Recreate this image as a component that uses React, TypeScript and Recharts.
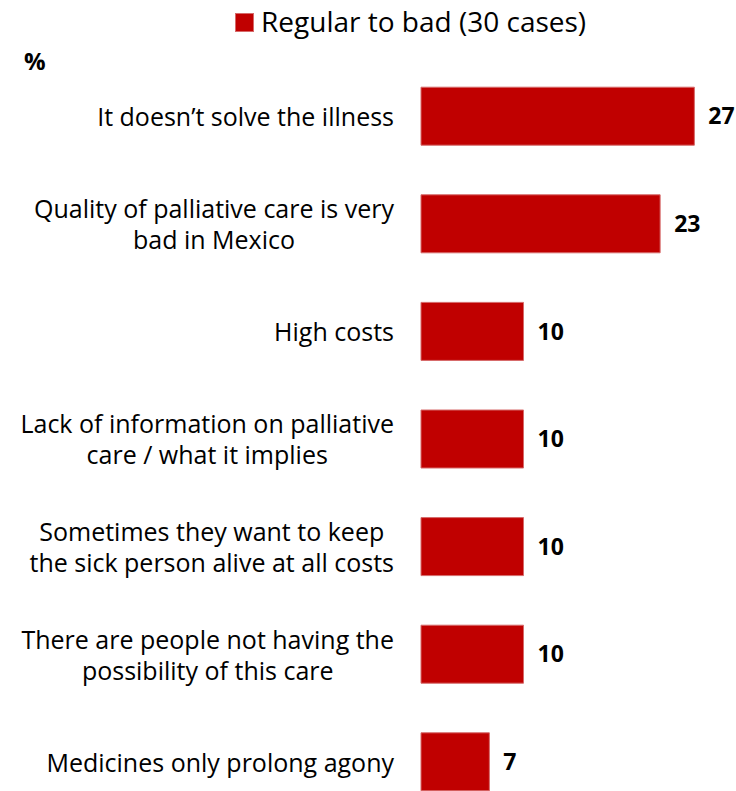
import React from 'react';
import { BarChart, Bar, XAxis, YAxis, Legend, LabelList, Label } from 'recharts';

const categories = [
  'It doesn\u2019t solve the illness',
  'Quality of palliative care is very\nbad in Mexico',
  'High costs',
  'Lack of information on palliative\ncare / what it implies',
  'Sometimes they want to keep\nthe sick person alive at all costs',
  'There are people not having the\npossibility of this care',
  'Medicines only prolong agony',
];
const values = [26.67, 23.33, 10, 10, 10, 10, 6.67];
const valueLabels = ['27', '23', '10', '10', '10', '10', '7'];
const seriesName = 'Regular to bad (30 cases)';
const unitLabel = '%';

const data = categories.map((c, i) => ({ category: c, value: values[i], label: valueLabels[i] }));

const FAMILY = 'Open Sans';
const FONT = '"Open Sans", Lato, sans-serif';
const TICK_SIZE = 25;
const RED = '#C00000';
const RED_EDGE = '#D66A6A';

let canvasCtx: CanvasRenderingContext2D | null = null;
function measure(text: string, font: string): number {
  if (!canvasCtx) {
    const c = document.createElement('canvas');
    canvasCtx = c.getContext('2d');
  }
  if (!canvasCtx) return text.length * 12;
  canvasCtx.font = font;
  return canvasCtx.measureText(text).width;
}

const CategoryTick = (props: any) => {
  const { x, y, payload } = props;
  const lines = String(payload.value).split('\n');
  const font = `${TICK_SIZE}px "${FAMILY}"`;
  const w = Math.max(...lines.map((l) => measure(l, font)));
  const cx = x - w / 2;
  const lh = 31;
  const start = y - ((lines.length - 1) * lh) / 2;
  return (
    <g>
      {lines.map((l, i) => (
        <text
          key={i}
          x={cx}
          y={start + i * lh}
          textAnchor="middle"
          dominantBaseline="central"
          fontFamily={FONT}
          fontSize={TICK_SIZE}
          fill="#000"
        >
          {l}
        </text>
      ))}
    </g>
  );
};

const LegendContent = () => (
  <div style={{ height: 44, position: 'relative', fontFamily: FONT }}>
    <div
      style={{
        position: 'absolute',
        left: 235,
        top: 13,
        width: 17,
        height: 17,
        background: RED,
        border: `1px solid ${RED_EDGE}`,
      }}
    />
    <div
      style={{
        position: 'absolute',
        left: 261,
        top: 2,
        fontSize: 28,
        lineHeight: '38px',
        color: '#000',
        whiteSpace: 'nowrap',
      }}
    >
      {seriesName}
    </div>
  </div>
);

export default function App() {
  return (
    <div
      style={{
        position: 'absolute',
        left: 0,
        top: 0,
        width: 736,
        height: 791,
        overflow: 'hidden',
        background: '#fff',
      }}
    >
      <BarChart
        width={736}
        height={830}
        data={data}
        layout="vertical"
        margin={{ top: 18.2, right: 7.5, bottom: 14.6, left: 0 }}
      >
        <Legend
          verticalAlign="top"
          align="left"
          content={<LegendContent />}
          wrapperStyle={{ left: 0, top: 0, width: 736, height: 44 }}
        />
        <XAxis type="number" domain={[0, 30]} hide />
        <YAxis
          type="category"
          dataKey="category"
          width={421}
          axisLine={false}
          tickLine={false}
          tickSize={0}
          tickMargin={27}
          tick={<CategoryTick />}
          interval={0}
        >
          <Label
            content={(p: any) => {
              const vb = p.viewBox || { x: 0, y: 0 };
              return (
                <text
                  x={vb.x + 24}
                  y={vb.y + 8}
                  fontFamily={FONT}
                  fontSize={24}
                  fontWeight="bold"
                  fill="#000"
                >
                  {unitLabel}
                </text>
              );
            }}
          />
        </YAxis>
        <Bar
          dataKey="value"
          name={seriesName}
          fill={RED}
          stroke={RED_EDGE}
          strokeWidth={1}
          barSize={58}
          isAnimationActive={false}
        >
          <LabelList
            dataKey="label"
            position="right"
            offset={14}
            fill="#000"
            fontFamily={FONT}
            fontSize={23}
            fontWeight="bold"
          />
        </Bar>
      </BarChart>
    </div>
  );
}
